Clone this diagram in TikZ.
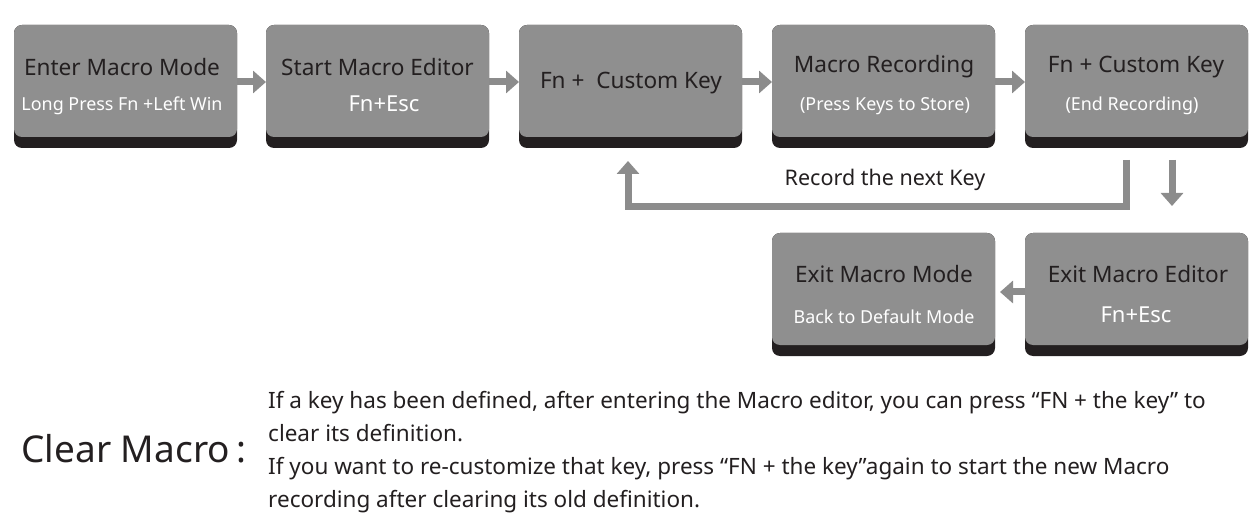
\documentclass[tikz,border=0pt]{standalone}
\usepackage{fontspec}
\setmainfont{Noto Sans}
\usetikzlibrary{arrows.meta}
\definecolor{boxg}{HTML}{8F8F8F}
\definecolor{boxd}{HTML}{231F20}
\definecolor{arrg}{HTML}{8C8C8C}
\tikzset{
 ttl/.style={text=boxd,font=\fontsize{22.6}{26}\selectfont},
 sub/.style={text=white,font=\fontsize{17.9}{21}\selectfont},
 big/.style={text=white,font=\fontsize{22}{26}\selectfont},
 flow/.style={draw=arrg,line width=7pt,-{Triangle[length=13pt,width=22pt]}},
}
\newcommand{\kbox}[3]{% name, x, y top
 \fill[boxd,rounded corners=8pt] (#2,-#3) rectangle ++(223,-123);
 \fill[boxg,rounded corners=8pt] (#2,-#3) rectangle ++(223,-112);
 \coordinate (#1) at (#2+111.5,-#3-56);
}
\begin{document}
\begin{tikzpicture}[x=1pt,y=1pt]
\useasboundingbox (0,0) rectangle (1258,-521);
\kbox{a}{14}{25}\kbox{b}{266}{25}\kbox{c}{519}{25}\kbox{d}{772}{25}\kbox{e}{1025}{25}
\kbox{f}{772}{233}\kbox{g}{1025}{233}
\node[ttl] (at) at (122,-67) {Enter Macro Mode};
\node[sub] (as) at (122,-106) {Long Press Fn +Left Win};
\node[ttl] (bt) at (377.5,-67) {Start Macro Editor};
\node[big] (bs) at (384,-104) {Fn+Esc};
\node[ttl] (ct) at (631,-83) {Fn +\ \ Custom Key};
\node[ttl] (dt) at (884,-67) {Macro Recording};
\node[sub] (ds) at (885,-106) {(Press Keys to Store)};
\node[ttl] (et) at (1136,-67) {Fn + Custom Key};
\node[sub] (es) at (1132,-106) {(End Recording)};
\node[ttl] (ft) at (884,-274) {Exit Macro Mode};
\node[sub] (fs) at (884,-317) {Back to Default Mode};
\node[ttl] (gt) at (1138,-274) {Exit Macro Editor};
\node[big] (gs) at (1136,-315) {Fn+Esc};
\coordinate (p1) at (237,-82); \coordinate (p2) at (266,-82);
\coordinate (p3) at (489,-82); \coordinate (p4) at (519,-82);
\coordinate (p5) at (742,-82); \coordinate (p6) at (772,-82);
\coordinate (p7) at (995,-82); \coordinate (p8) at (1025,-82);
\foreach \s/\t in {p1/p2,p3/p4,p5/p6,p7/p8} \draw[flow] (\s) -- (\t);
\coordinate (l1) at (1126,-160); \coordinate (l2) at (1126,-207); \coordinate (l3) at (628,-207); \coordinate (l4) at (628,-161);
\draw[flow] (l1) -- (l2) -- (l3) -- (l4);
\node[font=\fontsize{21.5}{24}\selectfont,text=boxd] (rn) at (885,-180) {Record the next Key};
\coordinate (d1) at (1172,-160); \coordinate (d2) at (1172,-206);
\draw[flow] (d1) -- (d2);
\coordinate (q1) at (1025,-292); \coordinate (q2) at (1000,-292);
\draw[flow] (q1) -- (q2);
\node[font=\fontsize{37}{40}\selectfont,text=boxd,anchor=west] (cm) at (18,-449) {Clear Macro\,:};
\node[font=\fontsize{22.5}{33}\selectfont,text=boxd,anchor=north west,align=left,inner sep=0pt] (tx) at (268,-391)
{If a key has been defined, after entering the Macro editor, you can press “FN + the key” to\\
clear its definition.\\
If you want to re-customize that key, press “FN + the key”again to start the new Macro\\
recording after clearing its old definition.};
\end{tikzpicture}
\end{document}
